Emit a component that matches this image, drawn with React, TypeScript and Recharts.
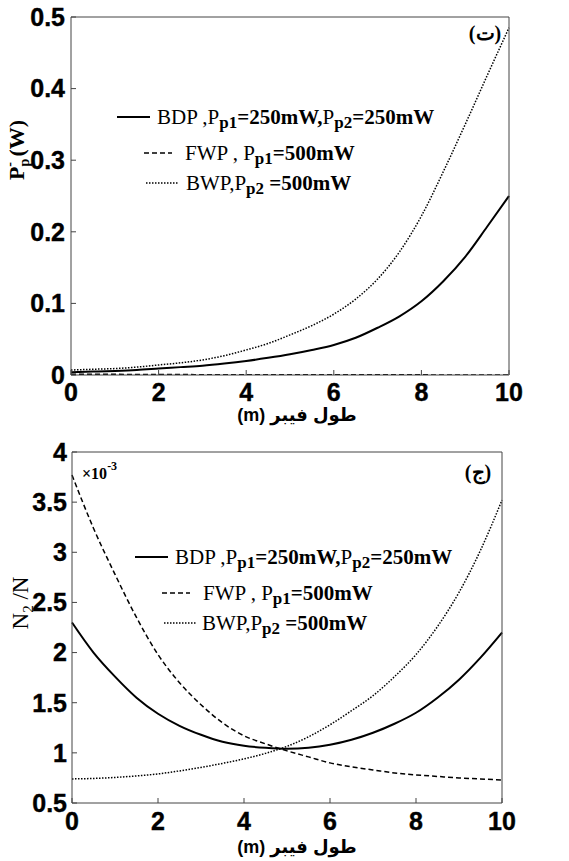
import React from 'react';
import { LineChart, Line, XAxis, YAxis, Customized } from 'recharts';

// fiber position (m)
const lengthM = [0, 0.5, 1, 1.5, 2, 2.5, 3, 3.5, 4, 4.5, 5, 5.5, 6, 6.5, 7, 7.5, 8, 8.5, 9, 9.5, 10];

// backward pump power P_p^- (W)
const pumpBDP = [0.004, 0.0048, 0.0057, 0.007, 0.009, 0.011, 0.013, 0.016, 0.0196, 0.024, 0.029, 0.035, 0.042, 0.052, 0.066, 0.082, 0.103, 0.131, 0.165, 0.207, 0.25];
const pumpFWP = [0.0012, 0.001, 0.0009, 0.0008, 0.0007, 0.0006, 0.0005, 0.0005, 0.0004, 0.0004, 0.0003, 0.0003, 0.0003, 0.0002, 0.0002, 0.0002, 0.0002, 0.0001, 0.0001, 0.0001, 0.0001];
const pumpBWP = [0.007, 0.008, 0.009, 0.011, 0.014, 0.017, 0.021, 0.027, 0.035, 0.044, 0.056, 0.069, 0.085, 0.106, 0.134, 0.172, 0.222, 0.284, 0.35, 0.418, 0.485];

// upper level population N2/N (x 1e-3)
const popBDP = [2.3, 2.0, 1.76, 1.55, 1.39, 1.27, 1.18, 1.11, 1.07, 1.05, 1.04, 1.05, 1.08, 1.13, 1.2, 1.29, 1.4, 1.55, 1.73, 1.95, 2.2];
const popFWP = [3.77, 3.24, 2.78, 2.35, 1.98, 1.7, 1.48, 1.3, 1.17, 1.09, 1.02, 0.96, 0.9, 0.86, 0.83, 0.8, 0.78, 0.765, 0.75, 0.74, 0.73];
const popBWP = [0.74, 0.745, 0.755, 0.77, 0.79, 0.82, 0.855, 0.895, 0.94, 0.995, 1.065, 1.16, 1.28, 1.42, 1.57, 1.76, 1.98, 2.26, 2.6, 3.02, 3.52];

const xTicks = [0, 2, 4, 6, 8, 10];
const pumpTicks = [0, 0.1, 0.2, 0.3, 0.4, 0.5];
const popTicks = [0.5, 1, 1.5, 2, 2.5, 3, 3.5, 4];

const xTitleAr = 'طول فیبر';

// legend text pieces: [text, weight, subscript?]
type Piece = [string, number, boolean?];
const legendLabels: Piece[][] = [
  [['BDP ,P', 400], ['p1', 700, true], ['=250mW,', 700], ['P', 400], ['p2', 700, true], ['=250mW', 700]],
  [['FWP , P', 400], ['p1', 700, true], ['=500mW', 700]],
  [['BWP,P', 400], ['p2', 700, true], [' =500mW', 700]],
];

const series = [
  { key: 'bdp', name: 'BDP', width: 2, dash: undefined as string | undefined },
  { key: 'fwp', name: 'FWP', width: 1.5, dash: '5 3' },
  { key: 'bwp', name: 'BWP', width: 1.5, dash: '1.5 1.5' },
];

const pumpData = lengthM.map((x, i) => ({ x, bdp: pumpBDP[i], fwp: pumpFWP[i], bwp: pumpBWP[i] }));
const popData = lengthM.map((x, i) => ({ x, bdp: popBDP[i], fwp: popFWP[i], bwp: popBWP[i] }));

const W = 569;
const axisStroke = '#444';
const tickFont = {
  fontFamily: '"Liberation Sans Narrow", "Liberation Sans", Arial, sans-serif',
  fontWeight: 700,
  fontSize: 25,
  fill: '#000',
  stroke: '#000',
  strokeWidth: 0.4,
};
const serif = '"Liberation Serif", "Times New Roman", serif';
const sans = '"Liberation Sans", "DejaVu Sans", sans-serif';

type Row = { x1: number; x2: number; y: number; tx: number };

function LegendBox({ rows }: { rows: Row[] }) {
  return (
    <g>
      {rows.map((r, i) => (
        <g key={i}>
          <line x1={r.x1} x2={r.x2} y1={r.y} y2={r.y} stroke="#000"
            strokeWidth={series[i].width} strokeDasharray={series[i].dash} />
          <text x={r.tx} y={r.y + 7} fontFamily={serif} fontSize={21} fill="#000">
            {legendLabels[i].map(([t, w, sub], j) => {
              const prevSub = j > 0 && legendLabels[i][j - 1][2];
              const dy = sub ? 4 : prevSub ? -4 : 0;
              return (
                <tspan key={j} fontWeight={w} fontSize={sub ? 17 : 21} dy={dy}>{t}</tspan>
              );
            })}
          </text>
        </g>
      ))}
    </g>
  );
}

type PanelProps = {
  height: number;
  margin: { top: number; right: number; bottom: number; left: number };
  data: any[];
  yDomain: [number, number];
  yTicks: number[];
  xTickMargin: number;
  yTickMargin: number;
  overlay: React.ReactNode;
};

function Panel({ height, margin, data, yDomain, yTicks, xTickMargin, yTickMargin, overlay }: PanelProps) {
  return (
    <LineChart width={W} height={height} data={data} margin={margin}>
      <XAxis xAxisId="b" dataKey="x" type="number" domain={[0, 10]} ticks={xTicks} interval={0}
        height={50} tickSize={-5} tickMargin={xTickMargin} tick={tickFont} stroke={axisStroke} />
      <XAxis xAxisId="t" orientation="top" dataKey="x" type="number" domain={[0, 10]} ticks={xTicks}
        interval={0} height={1} tickSize={-5} tick={false} stroke={axisStroke} />
      <YAxis yAxisId="l" type="number" domain={yDomain} ticks={yTicks} interval={0} width={60}
        tickSize={-5} tickMargin={yTickMargin} tick={tickFont} stroke={axisStroke} allowDataOverflow />
      <YAxis yAxisId="r" orientation="right" type="number" domain={yDomain} ticks={yTicks} interval={0}
        width={1} tickSize={-5} tick={false} stroke={axisStroke} allowDataOverflow />
      {series.map((s) => (
        <Line key={s.key} xAxisId="b" yAxisId="l" type="monotone" dataKey={s.key} name={s.name}
          stroke="#000" strokeWidth={s.width} strokeDasharray={s.dash} dot={false}
          activeDot={false} isAnimationActive={false} />
      ))}
      <Customized component={() => <g>{overlay}</g>} />
    </LineChart>
  );
}

export default function App() {
  const topOverlay = (
    <g>
      <text transform="translate(24,150) rotate(-90)" textAnchor="middle" fontFamily={serif}
        fontWeight={700} fontSize={22} fill="#000">
        P<tspan fontSize={14} dy={5}>p</tspan>
        <tspan fontSize={14} dx={-8} dy={-15}>-</tspan>
        <tspan dy={10}> (W)</tspan>
      </text>
      <text x={297} y={421} textAnchor="middle" fontFamily={sans}
        fontWeight={700} fontSize={18} fill="#000">{'(m) ' + xTitleAr}</text>
      <text x={485} y={40} textAnchor="middle" fontFamily={serif} fontWeight={700} fontSize={20}
        fill="#000">(ت)</text>
      <LegendBox rows={[
        { x1: 117, x2: 150, y: 117, tx: 157 },
        { x1: 144, x2: 172, y: 153, tx: 185 },
        { x1: 146, x2: 178, y: 183, tx: 186 },
      ]} />
    </g>
  );

  const bottomOverlay = (
    <g>
      <text transform="translate(28,173) rotate(-90)" textAnchor="middle" fontFamily={serif}
        fontSize={23} fill="#000">
        N<tspan fontSize={15} dy={5}>2</tspan><tspan dy={-5}> /N</tspan>
      </text>
      <text x={297} y={423} textAnchor="middle" fontFamily={sans}
        fontWeight={700} fontSize={18} fill="#000">{'(m) ' + xTitleAr}</text>
      <text x={478} y={49} textAnchor="middle" fontFamily={serif} fontWeight={700} fontSize={20}
        fill="#000">(ج)</text>
      <text x={82} y={49} fontFamily={serif} fontWeight={700} fontSize={16} fill="#000">
        ×10<tspan fontSize={12} dy={-9}>-3</tspan>
      </text>
      <LegendBox rows={[
        { x1: 135, x2: 168, y: 127, tx: 175 },
        { x1: 162, x2: 190, y: 163, tx: 203 },
        { x1: 164, x2: 197, y: 193, tx: 202 },
      ]} />
    </g>
  );

  return (
    <div style={{ position: 'absolute', left: 0, top: 0, width: W, height: 861, background: '#fff' }}>
      <Panel height={430} margin={{ top: 16, right: 59, bottom: 5, left: 11 }} data={pumpData}
        yDomain={[0, 0.5]} yTicks={pumpTicks} xTickMargin={13} yTickMargin={11} overlay={topOverlay} />
      <Panel height={431} margin={{ top: 21, right: 66, bottom: 8, left: 12 }} data={popData}
        yDomain={[0.5, 4]} yTicks={popTicks} xTickMargin={14} yTickMargin={10} overlay={bottomOverlay} />
    </div>
  );
}
